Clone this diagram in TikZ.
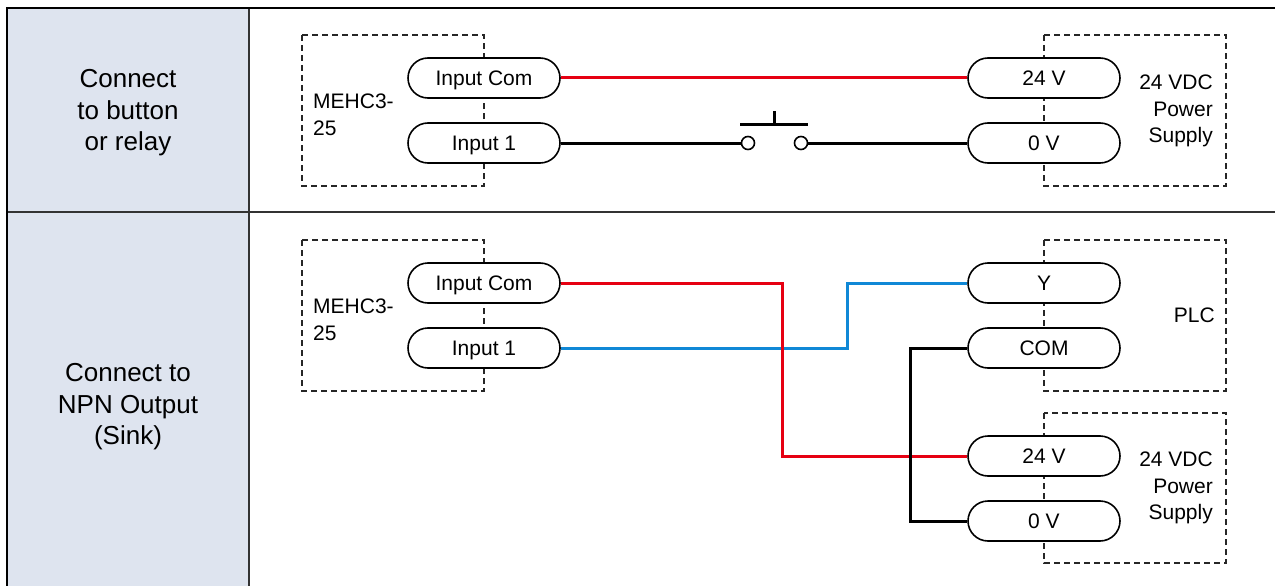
\documentclass[tikz,border=0pt]{standalone}
\usepackage{fontspec}
\setmainfont{Liberation Sans}
\definecolor{colfill}{RGB}{222,228,239}
\definecolor{wred}{RGB}{230,0,18}
\definecolor{wblue}{RGB}{16,136,214}
\begin{document}
\begin{tikzpicture}[x=1pt,y=-1pt,
  pill/.style={draw=black, line width=1.6pt, fill=white, rounded corners=20pt, minimum width=152pt, minimum height=40pt, inner sep=0pt, text depth=0pt, font=\fontsize{21}{25}\selectfont},
  dbox/.style={draw=black!85, dash pattern=on 6pt off 4pt, line width=1.3pt},
  lbl/.style={font=\fontsize{21}{26.5}\selectfont, inner sep=0pt},
  head/.style={font=\fontsize{26}{31.5}\selectfont, align=center, inner sep=0pt},
  wire/.style={line width=3pt, line join=miter},
  contact/.style={circle, draw=black, fill=white, line width=1.6pt, minimum size=13pt, inner sep=0pt}]
\useasboundingbox (0,0) rectangle (1275,586);
% table
\fill[colfill] (7,8) rectangle (249,592);
\draw[line width=2pt, draw=black!80] (249,8) -- (249,592);
\draw[line width=2pt, draw=black!80] (7,212) -- (1282,212);
\draw[line width=2.2pt] (7,592) -- (7,8) -- (1282,8);
\node[head] (r1) at (128,113) {Connect\\to button\\or relay};
\node[head] (r2) at (128,407) {Connect to\\NPN Output\\(Sink)};
% dashed boxes
\draw[dbox] (302,35) rectangle (484,186);
\draw[dbox] (1044,35) rectangle (1226,186);
\draw[dbox] (302,240) rectangle (484,391);
\draw[dbox] (1044,240) rectangle (1226,391);
\draw[dbox] (1044,413) rectangle (1226,563);
% labels
\node[lbl, align=left, anchor=west] (mA) at (313,115) {MEHC3-\\25};
\node[lbl, align=left, anchor=west] (mB) at (313,320) {MEHC3-\\25};
\node[lbl, align=right, anchor=east] (psA) at (1213,111) {24 VDC\\Power\\Supply};
\node[lbl, anchor=east] (plc) at (1215,315) {PLC};
\node[lbl, align=right, anchor=east] (psB) at (1213,488) {24 VDC\\Power\\Supply};
% pills row 1
\node[pill] (icA) at (484,78) {Input Com};
\node[pill] (i1A) at (484,143) {Input 1};
\node[pill] (v24A) at (1044,78) {24 V};
\node[pill] (v0A) at (1044,143) {0 V};
% pills row 2
\node[pill] (icB) at (484,283) {Input Com};
\node[pill] (i1B) at (484,348) {Input 1};
\node[pill] (yP) at (1044,283) {Y};
\node[pill] (com) at (1044,348) {COM};
\node[pill] (v24B) at (1044,456) {24 V};
\node[pill] (v0B) at (1044,521) {0 V};
% row 1 wiring
\draw[wire, wred] (icA.east) -- (v24A.west);
\node[contact] (c1) at (748,143) {};
\node[contact] (c2) at (801,143) {};
\draw[wire] (i1A.east) -- (c1.west);
\draw[wire] (c2.east) -- (v0A.west);
\coordinate (bL) at (740,124);
\coordinate (bR) at (808,124);
\coordinate (bM) at (774,124);
\coordinate (bT) at (774,111);
\draw[wire] (bL) -- (bR);
\draw[wire] (bM) -- (bT);
% row 2 wiring
\draw[wire, wblue] (i1B.east) -- ++(287,0) |- (yP.west);
\draw[wire, wred] (icB.east) -- ++(222,0) |- (v24B.west);
\draw[wire] (com.west) -- ++(-57,0) |- (v0B.west);
\end{tikzpicture}
\end{document}
